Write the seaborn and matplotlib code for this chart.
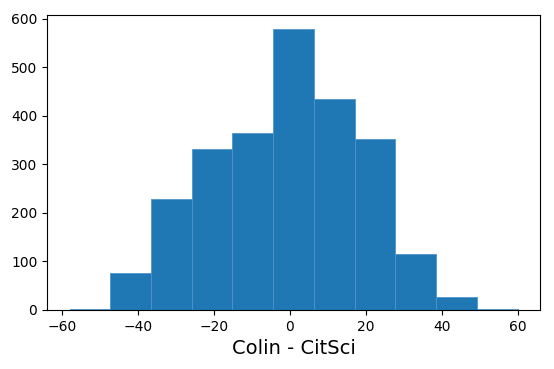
import numpy as np
import pandas as pd
import matplotlib
matplotlib.use("Agg")
import matplotlib.pyplot as plt
import seaborn as sns

# histogram bin edges and counts
bin_edges = list(np.linspace(-58, 60, 12))
counts = [2, 76, 229, 332, 364, 578, 434, 352, 115, 26, 2]
x_label = "Colin - CitSci"

centers = [(a + b) / 2 for a, b in zip(bin_edges[:-1], bin_edges[1:])]
df = pd.DataFrame({"diff": centers, "count": counts})

fig = plt.figure(figsize=(5.54, 3.69), dpi=100)
ax = fig.add_axes([0.085, 0.16, 0.89, 0.799])

sns.histplot(
    data=df,
    x="diff",
    weights="count",
    bins=bin_edges,
    color="#1f77b4",
    alpha=1,
    edgecolor="#4f95cc",
    linewidth=0.6,
    ax=ax,
)

ax.set_xlabel(x_label, fontsize=14)
ax.set_ylabel("")
ax.set_xlim(-63.9, 65.9)
ax.set_ylim(0, 607)
ax.set_xticks([-60, -40, -20, 0, 20, 40, 60])
ax.tick_params(labelsize=10)

fig.savefig("out.png", dpi=100)
